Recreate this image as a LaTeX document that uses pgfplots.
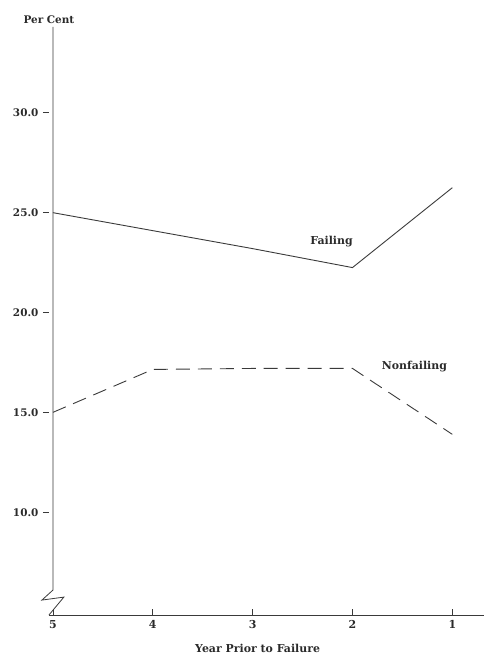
\documentclass[border=0pt]{standalone}
\usepackage{pgfplots}
\pgfplotsset{compat=1.18}
\usepackage{fontspec}
\setmainfont{DejaVu Serif}
\definecolor{ink}{HTML}{2A2A2A}
\definecolor{lin}{HTML}{3A3A3A}
\begin{document}
\begin{tikzpicture}
\useasboundingbox (-49bp,-40bp) rectangle (436bp,616bp);
\begin{axis}[
  scale only axis,
  width=436bp, height=589bp,
  xmin=-0.04, xmax=4.32,
  ymin=4.85, ymax=34.3,
  clip=false,
  axis x line=bottom,
  axis y line=left,
  axis line style={-, draw=lin, line width=0.8bp},
  y axis line style={draw=none},
  xtick={0,1,2,3,4},
  xticklabels={5,4,3,2,1},
  ytick={10,15,20,25,30},
  xtick align=inside,
  ytick align=outside,
  major tick length=6bp,
  every tick/.style={draw=lin, line width=0.8bp},
  /pgf/number format/assume math mode=true,
  /pgf/number format/fixed,
  /pgf/number format/fixed zerofill,
  /pgf/number format/precision=1,
  yticklabel style={font=\fontsize{10.5}{12}\selectfont\bfseries, text=ink, xshift=-1bp},
  xticklabel style={font=\fontsize{11}{12}\selectfont\bfseries, text=ink, yshift=-2bp},
]
% Failing (solid)
\addplot[lin, line width=0.9bp] coordinates {
  (0,25.0) (1,24.1) (2,23.2) (3,22.25) (4,26.25)
};
% Nonfailing (dashed)
\addplot[lin, line width=0.9bp, dash pattern=on 14bp off 8bp] coordinates {
  (0,15.0) (1,17.15) (2,17.2) (3,17.2) (4,13.9)
};
% y axis with break
\draw[lin, line width=0.8bp] (axis cs:0,34.3) -- (axis cs:0,6.1) -- (axis cs:-0.11,5.6)
  -- (axis cs:0.11,5.75) -- (axis cs:-0.04,4.85);
\node[font=\fontsize{10.5}{12}\selectfont\bfseries, text=ink, anchor=south] at (rel axis cs:0,1) {Per Cent};
\node[font=\fontsize{11}{12}\selectfont\bfseries, text=ink] at (axis cs:2.79,23.55) {Failing};
\node[font=\fontsize{11}{12}\selectfont\bfseries, text=ink] at (axis cs:3.62,17.3) {Nonfailing};
\node[font=\fontsize{11}{12}\selectfont\bfseries, text=ink] at (axis cs:2.05,3.2) {Year Prior to Failure};
\end{axis}
\end{tikzpicture}
\end{document}
